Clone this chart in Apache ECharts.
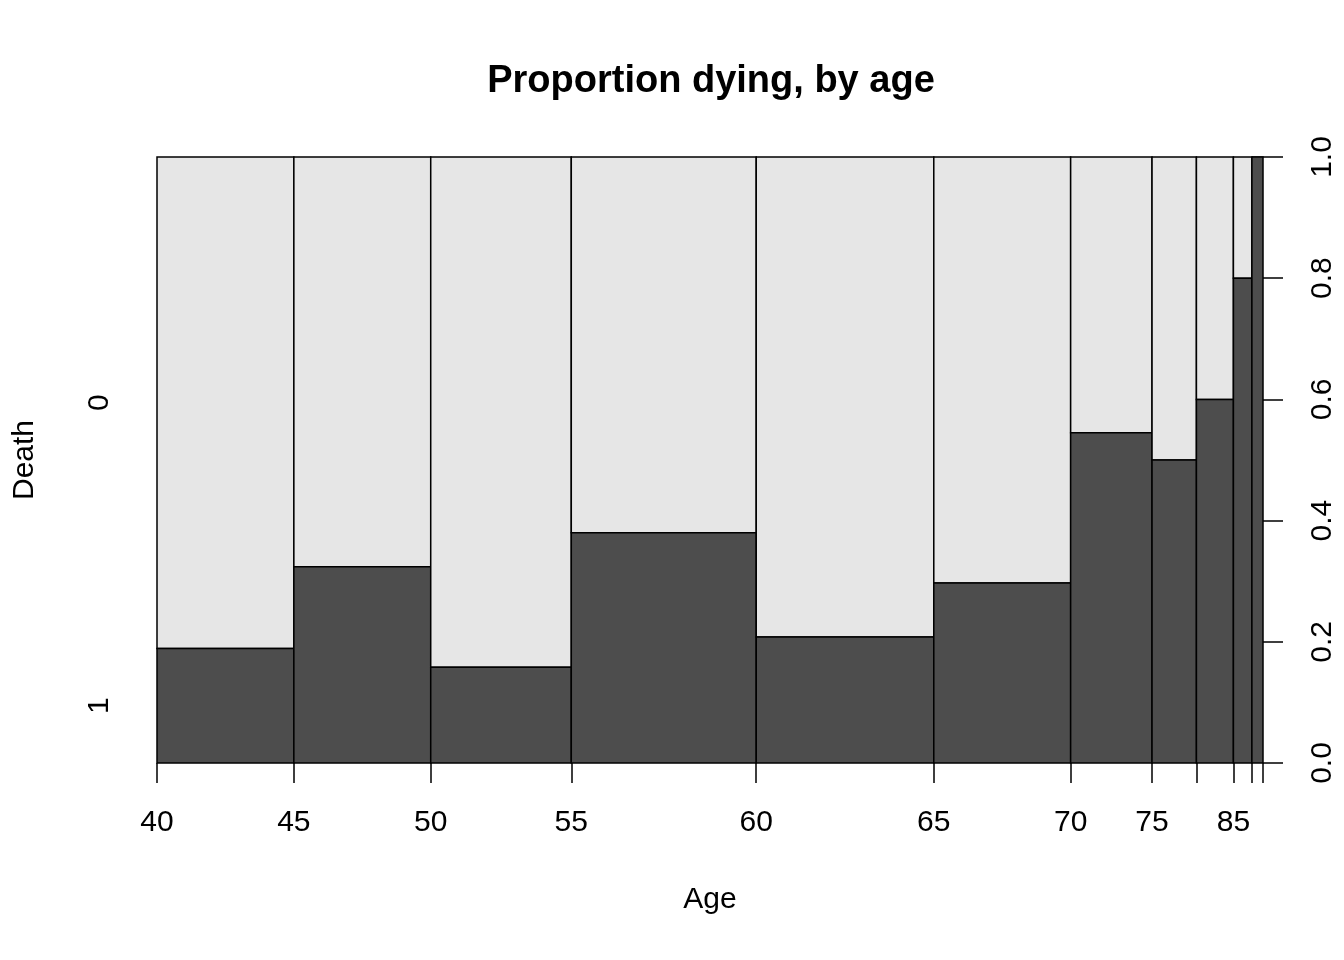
<!DOCTYPE html>
<html>
<head>
<meta charset="utf-8">
<script src="https://cdn.jsdelivr.net/npm/echarts@6/dist/echarts.min.js"></script>
<style>html,body{margin:0;padding:0;background:#fff;}#c{width:1344px;height:960px;}</style>
</head>
<body>
<div id="c"></div>
<script>
// Age-bin boundaries (years)
var ageBreaks = [40, 45, 50, 55, 60, 65, 70, 75, 80, 85, 90, 95];
// Number of people per age bin
var binCounts = [37, 37, 38, 50, 48, 37, 22, 12, 10, 5, 3];
// Proportion with Death = 1 in each bin
var deathProp = [0.189, 0.324, 0.158, 0.38, 0.208, 0.297, 0.545, 0.5, 0.6, 0.8, 1.0];
// Age labels shown under the axis
var shownAgeLabels = [40, 45, 50, 55, 60, 65, 70, 75, 85];
// Right-axis tick labels
var propTicks = [0, 0.2, 0.4, 0.6, 0.8, 1.0];
// Death categories (left axis)
var deathLevels = ['1', '0'];

var cum = [0];
for (var i = 0; i < binCounts.length; i++) cum.push(cum[i] + binCounts[i]);
var total = cum[cum.length - 1];
var breakPos = {};
for (var j = 0; j < ageBreaks.length; j++) breakPos[ageBreaks[j]] = cum[j];
var labelPos = shownAgeLabels.map(function (a) { return breakPos[a]; });
var posToAge = {};
ageBreaks.forEach(function (a, k) { posToAge[cum[k]] = a; });

var data = binCounts.map(function (c, k) { return [cum[k], cum[k + 1], deathProp[k]]; });
var p0 = deathProp[0];
var leftLabelPos = [p0 / 2, (1 + p0) / 2];

var font = 'Liberation Sans, Arial, Helvetica, sans-serif';
var chart = echarts.init(document.getElementById('c'));
chart.setOption({
  animation: false,
  backgroundColor: '#fff',
  title: {
    text: 'Proportion dying, by age',
    left: 706, top: 58, textAlign: 'center',
    textStyle: { fontFamily: font, fontWeight: 'bold', fontSize: 38, color: '#000' }
  },
  grid: { left: 157, right: 81, top: 157, bottom: 197 },
  xAxis: {
    type: 'value', min: 0, max: total,
    name: 'Age', nameLocation: 'middle', nameGap: 122,
    nameTextStyle: { fontFamily: font, fontSize: 30, color: '#000' },
    axisLine: { show: false, onZero: false },
    splitLine: { show: false },
    axisTick: { show: true, length: 20, customValues: cum, lineStyle: { color: '#000', width: 1.5 } },
    axisLabel: {
      customValues: labelPos, margin: 45,
      fontFamily: font, fontSize: 30, color: '#000',
      formatter: function (v) { return String(posToAge[v]); }
    }
  },
  yAxis: [
    {
      type: 'value', min: 0, max: 1, position: 'right', interval: 0.2,
      axisLine: { show: false, onZero: false }, splitLine: { show: false },
      axisTick: { show: true, length: 20, lineStyle: { color: '#000', width: 1.5 } },
      axisLabel: {
        rotate: 90, margin: 45, fontFamily: font, fontSize: 30, color: '#000',
        formatter: function (v) { return v.toFixed(1); }
      }
    },
    {
      type: 'value', min: 0, max: 1, position: 'left',
      name: 'Death', nameLocation: 'middle', nameGap: 117, nameRotate: 90,
      nameTextStyle: { fontFamily: font, fontSize: 30, color: '#000' },
      axisLine: { show: false, onZero: false }, splitLine: { show: false },
      axisTick: { show: false, length: 0 },
      minorTick: { show: false },
      axisLabel: {
        customValues: leftLabelPos, rotate: 90, margin: 42,
        fontFamily: font, fontSize: 30, color: '#000',
        formatter: function (v) { return v < p0 ? deathLevels[0] : deathLevels[1]; }
      }
    }
  ],
  series: [{
    type: 'custom',
    data: data,
    renderItem: function (params, api) {
      var x0 = api.value(0), x1 = api.value(1), p = api.value(2);
      var a = api.coord([x0, 0]), b = api.coord([x1, p]), c = api.coord([x1, 1]);
      var lw = 1.5;
      return {
        type: 'group',
        children: [
          { type: 'rect', shape: { x: a[0], y: c[1], width: b[0] - a[0], height: b[1] - c[1] },
            style: { fill: '#e6e6e6', stroke: '#000', lineWidth: lw } },
          { type: 'rect', shape: { x: a[0], y: b[1], width: b[0] - a[0], height: a[1] - b[1] },
            style: { fill: '#4d4d4d', stroke: '#000', lineWidth: lw } }
        ]
      };
    }
  }]
});
</script>
</body>
</html>
